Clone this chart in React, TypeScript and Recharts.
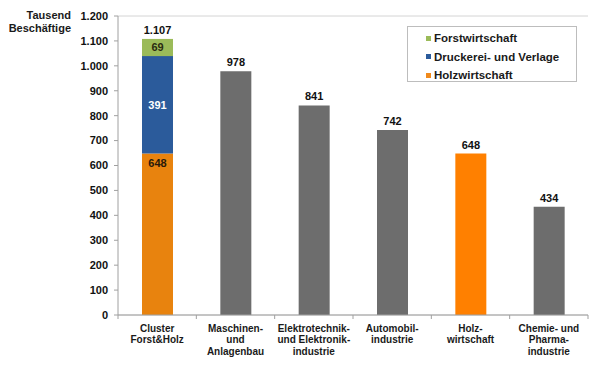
import React from 'react';
import { ComposedChart, Bar, XAxis, YAxis, CartesianGrid, LabelList, Cell } from 'recharts';

const categories: string[][] = [
  ['Cluster', 'Forst&Holz'],
  ['Maschinen-', 'und', 'Anlagenbau'],
  ['Elektrotechnik-', 'und Elektronik-', 'industrie'],
  ['Automobil-', 'industrie'],
  ['Holz-', 'wirtschaft'],
  ['Chemie- und', 'Pharma-', 'industrie'],
];
const baseValues = [648, 978, 841, 742, 648, 434];
const druckValues = [391, 0, 0, 0, 0, 0];
const forstValues = [69, 0, 0, 0, 0, 0];
const totals = [1107, 978, 841, 742, 648, 434];
const baseInnerLabels: (number | null)[] = [648, null, null, null, null, null];
const druckInnerLabels: (number | null)[] = [391, null, null, null, null, null];
const forstInnerLabels: (number | null)[] = [69, null, null, null, null, null];
const yTicks = [0, 100, 200, 300, 400, 500, 600, 700, 800, 900, 1000, 1100, 1200];
const legendItems = ['Forstwirtschaft', 'Druckerei- und Verlage', 'Holzwirtschaft'];
const yLabelLines = ['Tausend', 'Beschäftige'];

const baseColors = ['#E8830E', '#6D6D6D', '#6D6D6D', '#6D6D6D', '#FF8000', '#6D6D6D'];
const legendColors = ['#9BBB59', '#2B5B9B', '#F08A1C'];
const FONT = '"Liberation Sans", Arial, sans-serif';

const data = categories.map((c, i) => ({
  name: c.join(' '),
  base: baseValues[i],
  druck: druckValues[i],
  forst: forstValues[i],
  total: totals[i],
  baseInner: baseInnerLabels[i],
  druckInner: druckInnerLabels[i],
  forstInner: forstInnerLabels[i],
}));

const fmt = (v: any) => {
  if (v === null || v === undefined || v === '') return '';
  const n = Number(v);
  const s = String(Math.round(n));
  return s.replace(/\B(?=(\d{3})+(?!\d))/g, '.');
};

const XTick = (props: any) => {
  const { x, y, payload } = props;
  const lines = categories[payload.index] || [];
  const half = Number(payload.offset) || 0;
  const ay = y - 8;
  const isLast = payload.index === categories.length - 1;
  return (
    <g>
      {half > 0 && <line x1={x - half} x2={x - half} y1={ay} y2={ay + 4} stroke="#A0A0A0" />}
      {half > 0 && isLast && <line x1={x + half} x2={x + half} y1={ay} y2={ay + 4} stroke="#A0A0A0" />}
      <text x={x} y={y} textAnchor="middle" fontFamily={FONT} fontSize={10} fontWeight="bold" fill="#1a1a1a">
        {lines.map((l, i) => (
          <tspan key={i} x={x} dy={i === 0 ? 9 : 11.4}>{l}</tspan>
        ))}
      </text>
    </g>
  );
};

export default function App() {
  return (
    <div style={{ position: 'absolute', left: 0, top: 0, width: 600, height: 372, background: '#fff', fontFamily: FONT }}>
      <ComposedChart width={600} height={372} data={data} margin={{ top: 16, right: 12, bottom: 0, left: 0 }} barSize={31}>
        <CartesianGrid vertical={false} stroke="#D4D4D4" strokeWidth={1} />
        <XAxis
          dataKey="name"
          height={57}
          tick={<XTick />}
          tickLine={false}
          axisLine={{ stroke: '#A0A0A0' }}
          interval={0}
        />
        <XAxis xAxisId="t" dataKey="name" hide />
        <YAxis
          yAxisId="l"
          width={118}
          domain={[0, 1200]}
          ticks={yTicks}
          interval={0}
          tickFormatter={fmt}
          tick={{ fontFamily: FONT, fontSize: 11, fontWeight: 'bold', fill: '#111' }}
          tickSize={4}
          tickMargin={6}
          tickLine={{ stroke: '#A0A0A0' }}
          axisLine={{ stroke: '#A0A0A0' }}
        />
        <YAxis yAxisId="r" orientation="right" width={0} domain={[0, 1200]} tick={false} tickLine={false} axisLine={{ stroke: '#A0A0A0' }} />
        <Bar yAxisId="l" dataKey="base" stackId="s" isAnimationActive={false}>
          {data.map((d, i) => (
            <Cell key={i} fill={baseColors[i]} />
          ))}
          <LabelList dataKey="baseInner" position="insideTop" offset={6} formatter={fmt}
            style={{ fontFamily: FONT, fontSize: 11, fontWeight: 'bold', fill: '#2a1a0a' }} />
        </Bar>
        <Bar yAxisId="l" dataKey="druck" stackId="s" fill="#2B5B9B" isAnimationActive={false}>
          <LabelList dataKey="druckInner" position="center" formatter={fmt}
            style={{ fontFamily: FONT, fontSize: 11, fontWeight: 'bold', fill: '#ffffff' }} />
        </Bar>
        <Bar yAxisId="l" dataKey="forst" stackId="s" fill="#9BBB59" isAnimationActive={false}>
          <LabelList dataKey="forstInner" position="center" formatter={fmt}
            style={{ fontFamily: FONT, fontSize: 11, fontWeight: 'bold', fill: '#2a2a10' }} />
        </Bar>
        <Bar xAxisId="t" yAxisId="l" dataKey="total" fill="transparent" isAnimationActive={false}>
          <LabelList dataKey="total" position="top" offset={5} formatter={fmt}
            style={{ fontFamily: FONT, fontSize: 11, fontWeight: 'bold', fill: '#111' }} />
        </Bar>
      </ComposedChart>
      {yLabelLines.map((t, i) => (
        <div key={i} style={{ position: 'absolute', right: 600 - 71, top: 9 + i * 13, fontSize: 11, fontWeight: 'bold', color: '#1a1a1a', whiteSpace: 'nowrap', lineHeight: '13px' }}>{t}</div>
      ))}
      <div style={{ position: 'absolute', left: 407, top: 26, width: 170, height: 56, border: '1px solid #BDBDBD', background: '#fff', boxSizing: 'border-box' }}>
        {legendItems.map((t, i) => (
          <div key={i} style={{ position: 'absolute', left: 18, top: 3 + i * 18.5, height: 16, display: 'flex', alignItems: 'center', whiteSpace: 'nowrap' }}>
            <span style={{ display: 'inline-block', width: 5, height: 5, background: legendColors[i], marginRight: 3 }} />
            <span style={{ fontSize: 11.5, fontWeight: 'bold', color: '#1a1a1a' }}>{t}</span>
          </div>
        ))}
      </div>
    </div>
  );
}
